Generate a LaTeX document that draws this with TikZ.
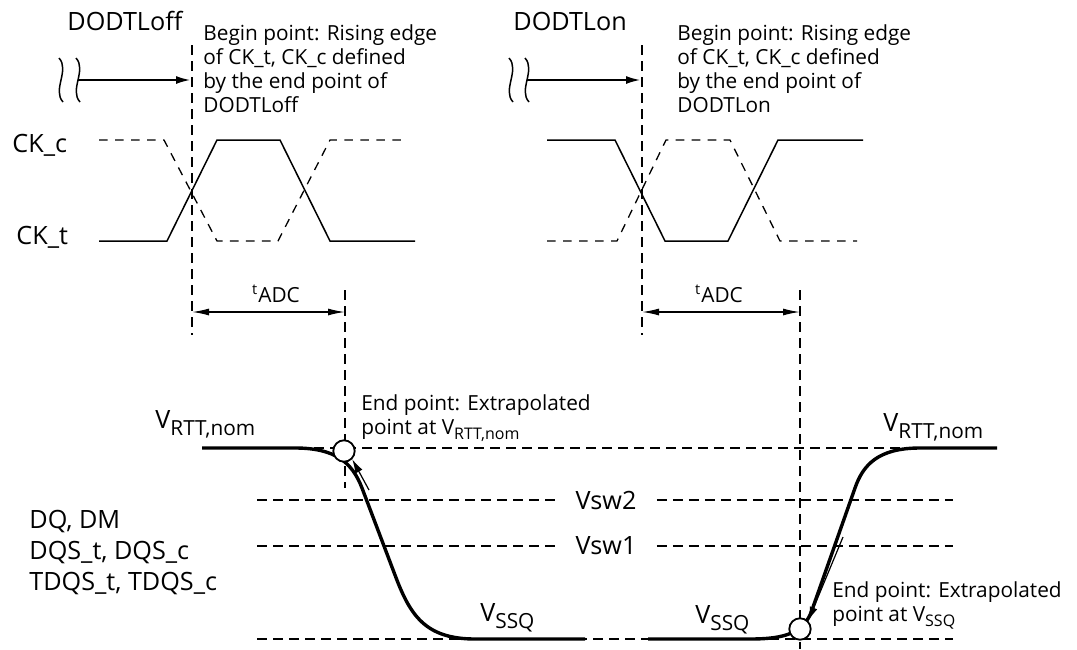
\documentclass[tikz,border=0pt]{standalone}
\usepackage{fontspec}
\setmainfont{Open Sans}
\usetikzlibrary{arrows.meta,positioning}

\newcommand{\bigtxt}{\fontsize{12.6}{15.5}\selectfont}
\newcommand{\smalltxt}{\fontsize{10.4}{12}\selectfont}
\newcommand{\tinytxt}{\fontsize{8}{9}\selectfont}
\newcommand{\Vbig}[1]{{\bigtxt V}\raisebox{-3.5pt}{\smalltxt #1}}
\newcommand{\Vsmall}[1]{V\raisebox{-2.5pt}{\tinytxt #1}}

\tikzset{
    guide/.style={line width=0.65pt, dash pattern=on 5pt off 3pt},
    clk/.style={line width=0.75pt},
    clkbar/.style={line width=0.65pt, dash pattern=on 4.3pt off 3.7pt},
    level/.style={line width=1.7pt},
    endpt/.style={circle, draw, line width=0.9pt, fill=white, minimum size=10.7pt, inner sep=0pt},
    dim/.style={{Latex[length=8.5pt,width=3.5pt]}-{Latex[length=8.5pt,width=3.5pt]}, line width=0.7pt},
    toedge/.style={-{Latex[length=7pt,width=4pt]}, line width=0.7pt},
    tocircle/.style={-{Latex[length=7pt,width=4pt]}, line width=0.6pt},
    lbl/.style={inner sep=0pt, font=\bigtxt},
    note/.style={inner sep=0pt, font=\smalltxt, align=left, anchor=north west}
}

\begin{document}
\begin{tikzpicture}[x=0.5pt, y=-0.5pt]
    \useasboundingbox (0,0) rectangle (1077,649);
    %% labels on the left
    \node[lbl, anchor=base west] (dodtoff) at (67,30) {DODTLoff};
    \node[lbl, anchor=base west] (dodton) at (513,30) {DODTLon};
    \node[lbl, anchor=base west] (ckc) at (12,152) {CK\_c};
    \node[lbl, anchor=base west] (ckt) at (16,244) {CK\_t};
    \node[lbl, anchor=north west, align=left] (dq) at (29,510)
        {DQ, DM\\DQS\_t, DQS\_c\\TDQS\_t, TDQS\_c};
    \node[note] (beginoff) at (203,24)
        {Begin point: Rising edge\\of CK\_t, CK\_c defined\\by the end point of\\DODTLoff};
    \node[note] (beginon) at (677,24)
        {Begin point: Rising edge\\of CK\_t, CK\_c defined\\by the end point of\\DODTLon};
    \node[note] (endoff) at (361,394) {End point: Extrapolated\\point at \Vsmall{RTT,nom}};
    \node[note] (endon) at (832,581) {End point: Extrapolated\\point at \Vsmall{SSQ}};
    %% reference lines
    \coordinate (offedge) at (192,80);
    \coordinate (onedge) at (642,80);
    \draw[guide] (192,45) -- (192,335);
    \draw[guide] (642,45) -- (642,335);
    \draw[guide] (345,290) -- (345,488);
    \draw[guide] (800,290) -- (800,649);
    \draw[guide] (202,448) -- (997,448);
    \node[lbl, inner xsep=10pt] (vsw2) at (606,500) {Vsw2};
    \node[lbl, inner xsep=10pt] (vsw1) at (606,546) {Vsw1};
    \draw[guide] (257,500) -- (vsw2.west);
    \draw[guide] (vsw2.east) -- (953,500);
    \draw[guide] (257,546) -- (vsw1.west);
    \draw[guide] (vsw1.east) -- (953,546);
    \draw[guide] (257,639) -- (953,639);
    %% breaks and arrows to the clock edge
    \foreach \c in {61,78,511,527}
        \draw[clk] (\c-2,58) .. controls (\c+9,70) and (\c-9,90) .. (\c+2,102);
    \coordinate (offbrk) at (78,80);
    \coordinate (onbrk) at (527,80);
    \draw[toedge] (offbrk) -- ([xshift=-1pt]offedge);
    \draw[toedge] (onbrk) -- ([xshift=-1pt]onedge);
    %% clocks
    \draw[clk] (99,241) -- (167,241) -- (217,140) -- (280,140) -- (330,241) -- (415,241);
    \draw[clkbar] (99,140) -- (164,140) -- (217,241) -- (278,241) -- (330,140) -- (407,140);
    \draw[clk] (547,140) -- (615,140) -- (665,241) -- (728,241) -- (778,140) -- (863,140);
    \draw[clkbar] (547,241) -- (617,241) -- (666,140) -- (730,140) -- (780,241) -- (857,241);
    %% tADC
    \coordinate (aoff1) at (192,312);
    \coordinate (aoff2) at (345,312);
    \coordinate (aon1) at (642,312);
    \coordinate (aon2) at (800,312);
    \draw[dim] (aoff1) -- (aoff2);
    \draw[dim] (aon1) -- (aon2);
    \node[font=\smalltxt, anchor=base, inner sep=0pt] (tadcoff) at (276,302) {\textsuperscript{t}ADC};
    \node[font=\smalltxt, anchor=base, inner sep=0pt] (tadcon) at (719,302) {\textsuperscript{t}ADC};
    %% DQ levels
    \draw[level] (202,448) -- (295,448) .. controls (335,448) and (352,462) .. (362,488)
        -- (395,575) .. controls (410,615) and (425,639) .. (475,639) -- (585,639);
    \draw[level] (648,639) -- (750,639) .. controls (785,639) and (804,633) .. (812,610)
        -- (855,488) .. controls (863,465) and (878,448) .. (920,448) -- (997,448);
    \node[endpt] (offend) at (344,451) {};
    \node[endpt] (onend) at (800,629) {};
    \draw[tocircle] (369,490) -- (offend.south east);
    \draw[tocircle] (843,537) -- (onend.north east);
    \node[anchor=base west, inner sep=0pt] (rttoff) at (155,428) {\Vbig{RTT,nom}};
    \node[anchor=base west, inner sep=0pt] (rtton) at (883,431) {\Vbig{RTT,nom}};
    \node[anchor=base west, inner sep=0pt] (ssqoff) at (480,621) {\Vbig{SSQ}};
    \node[anchor=base west, inner sep=0pt] (ssqon) at (695,623) {\Vbig{SSQ}};
\end{tikzpicture}
\end{document}
